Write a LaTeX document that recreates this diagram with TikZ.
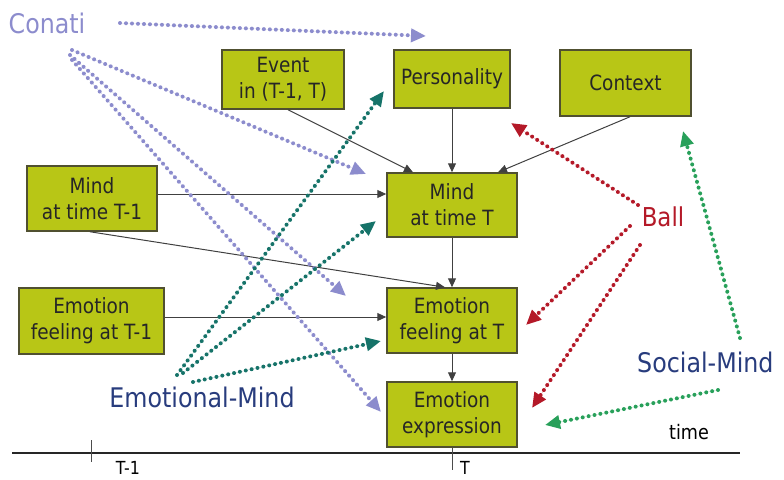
\documentclass[tikz,border=0pt]{standalone}
\usepackage{fontspec}
\setmainfont[FakeStretch=0.88]{DejaVu Sans}
\usetikzlibrary{arrows.meta,calc}

\definecolor{boxfill}{RGB}{184,198,22}
\definecolor{boxedge}{RGB}{80,80,48}
\definecolor{conati}{RGB}{140,140,205}
\definecolor{emind}{RGB}{22,115,105}
\definecolor{ballred}{RGB}{180,25,40}
\definecolor{smind}{RGB}{40,160,90}
\definecolor{labelblue}{RGB}{40,60,125}

\tikzset{
  box/.style={draw=boxedge, line width=1.5pt, fill=boxfill, align=center,
    inner sep=0pt, font=\fontsize{21}{26}\selectfont, text=black!85},
  flow/.style={draw=black!75, line width=1pt, -{Triangle[length=9pt,width=8pt]}},
  dotarrow/.style={line width=4pt, line cap=round, dash pattern=on 0pt off 6pt,
    -{Triangle[length=15pt,width=13pt]}},
  conatiarrow/.style={dotarrow, draw=conati, fill=conati},
  emarrow/.style={dotarrow, draw=emind, fill=emind},
  ballarrow/.style={dotarrow, draw=ballred, fill=ballred},
  socarrow/.style={dotarrow, draw=smind, fill=smind},
  biglabel/.style={inner sep=0pt, font=\fontsize{26}{30}\selectfont}
}

\begin{document}
\begin{tikzpicture}[x=1pt, y=-1pt]
\useasboundingbox (0,0) rectangle (784,479);

% boxes
\node[box, minimum width=122pt, minimum height=59pt] (ev)   at (283,79.5) {Event\\in (T-1, T)};
\node[box, minimum width=116pt, minimum height=58pt] (pers) at (452,79)   {Personality};
\node[box, minimum width=131pt, minimum height=66pt] (ctx)  at (625.5,83) {Context};
\node[box, minimum width=130pt, minimum height=65pt] (mt1)  at (92,198.5) {Mind\\at time T-1};
\node[box, minimum width=130pt, minimum height=64pt] (mt)   at (452,205)  {Mind\\at time T};
\node[box, minimum width=145pt, minimum height=66pt] (ef1)  at (91.5,321) {Emotion\\feeling at T-1};
\node[box, minimum width=130pt, minimum height=65pt] (ef)   at (452,320.5) {Emotion\\feeling at T};
\node[box, minimum width=130pt, minimum height=65pt] (ex)   at (452,414.5) {Emotion\\expression};

% labels
\node[biglabel, text=conati, font=\fontsize{27}{30}\selectfont] (conati) at (47,23) {Conati};
\node[biglabel, text=ballred]    (ball)   at (663,217) {Ball};
\node[biglabel, text=labelblue, anchor=west, font=\fontsize{27}{30}\selectfont] (social) at (637,362) {Social-Mind};
\node[biglabel, text=labelblue, font=\fontsize{27}{30}\selectfont] (emo) at (202,397) {Emotional-Mind};
\node[inner sep=0pt, font=\fontsize{20}{24}\selectfont] (time) at (689,432) {time};

% time axis
\coordinate (ax0) at (12,453);
\coordinate (ax1) at (740,453);
\draw[line width=1.5pt, black!85] (ax0) -- (ax1);
\coordinate (tk1a) at (91,440);
\coordinate (tk1b) at (91,462);
\draw[line width=1pt, black!70] (tk1a) -- (tk1b);
\coordinate (tkT) at (452,470);
\draw[line width=1pt, black!70] (ex.south) -- (tkT);
\node[inner sep=0pt, anchor=north, font=\fontsize{18}{20}\selectfont] (lt1) at (128,461) {T-1};
\node[inner sep=0pt, anchor=north, font=\fontsize{18}{20}\selectfont] (lt)  at (465,461) {T};

% causal links
\draw[flow] ($(ev.south)+(5,0)$) -- ($(mt.north)+(-39,0)$);
\draw[flow] (pers.south) -- (mt.north);
\draw[flow] ($(ctx.south)+(4.5,0)$) -- ($(mt.north)+(46,0)$);
\draw[flow] ($(mt1.east)+(0,-4.5)$) -- ($(mt.west)+(0,-11)$);
\draw[flow] ($(mt1.south)+(-2,0)$) -- ($(ef.north)+(-7,0)$);
\draw[flow] (mt.south) -- (ef.north);
\draw[flow] ($(ef1.east)+(0,-4)$) -- ($(ef.west)+(0,-3.5)$);
\draw[flow] (ef.south) -- (ex.north);

% Conati influences
\coordinate (ca) at (120,23);   \coordinate (cA) at (426,36);
\coordinate (cb) at (72,50);    \coordinate (cB) at (366,174);
\coordinate (cc) at (70,55);    \coordinate (cC) at (346,296);
\coordinate (cd) at (72,60);    \coordinate (cD) at (381,412);
\draw[conatiarrow] (ca) -- (cA);
\draw[conatiarrow] (cb) -- (cB);
\draw[conatiarrow] (cc) -- (cC);
\draw[conatiarrow] (cd) -- (cD);

% Emotional-Mind influences
\coordinate (ea) at (177,375);  \coordinate (eA) at (384,91);
\coordinate (eb) at (183,373);  \coordinate (eB) at (376,221);
\coordinate (ec) at (193,382);  \coordinate (eC) at (381,341);
\draw[emarrow] (ea) -- (eA);
\draw[emarrow] (eb) -- (eB);
\draw[emarrow] (ec) -- (eC);

% Ball influences
\coordinate (ba) at (638,205);  \coordinate (bA) at (511,123);
\coordinate (bb) at (630,226);  \coordinate (bB) at (526,325);
\coordinate (bc) at (640,245);  \coordinate (bC) at (532,408);
\draw[ballarrow] (ba) -- (bA);
\draw[ballarrow] (bb) -- (bB);
\draw[ballarrow] (bc) -- (bC);

% Social-Mind influences
\coordinate (sa) at (740,338);  \coordinate (sA) at (683,131);
\coordinate (sb) at (718,390);  \coordinate (sB) at (545,425);
\draw[socarrow] (sa) -- (sA);
\draw[socarrow] (sb) -- (sB);
\end{tikzpicture}
\end{document}
